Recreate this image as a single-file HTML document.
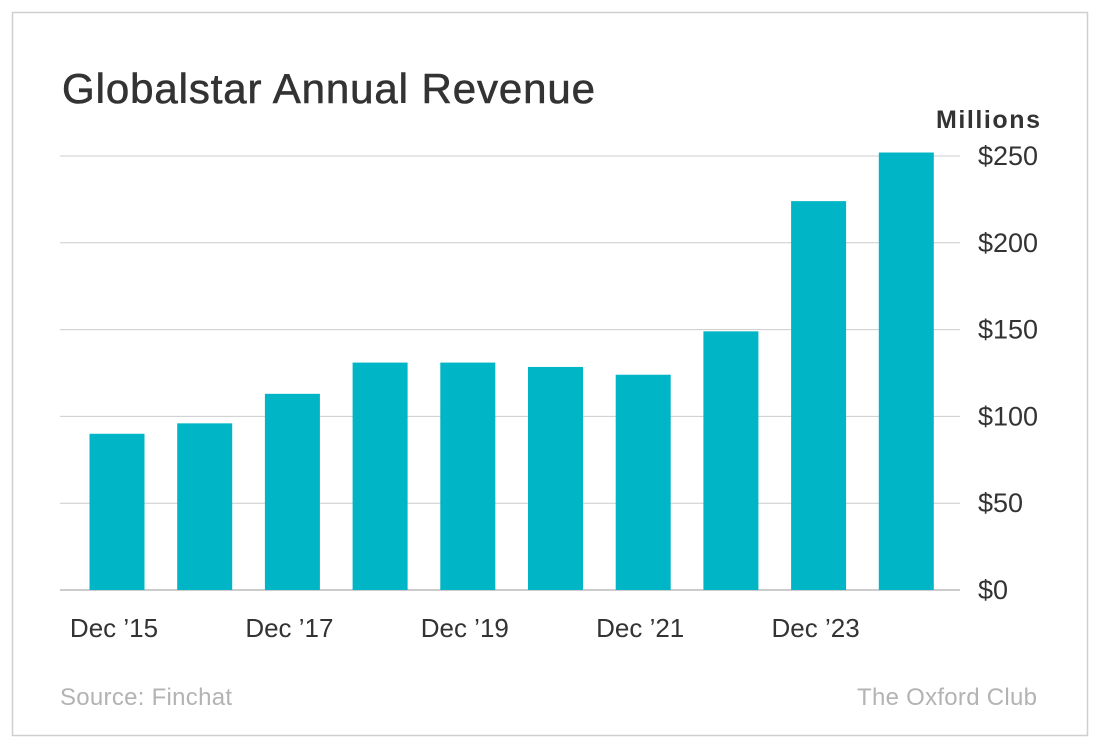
<!DOCTYPE html>
<html><head><meta charset="utf-8"><style>
body{margin:0;background:#fff;}
svg{display:block;font-family:"Liberation Sans",sans-serif;}
</style></head><body>
<svg width="1100" height="748">
<rect x="12.5" y="12.5" width="1075" height="723" fill="#fff" stroke="#cfcfcf" stroke-width="1.5"/>
<text x="62" y="103" font-size="42" fill="#333" stroke="#333" stroke-width="0.6" textLength="533">Globalstar Annual Revenue</text>
<text x="1040" y="128" font-size="25" font-weight="bold" fill="#333" text-anchor="end" textLength="104">Millions</text>
<g id="grid"></g><g id="bars"></g><g id="xl"></g>
<text x="60" y="705" font-size="24" fill="#b3b3b3" textLength="172">Source: Finchat</text>
<text x="857" y="705" font-size="24" fill="#b3b3b3" textLength="180">The Oxford Club</text>
</svg>
<script>
const categories=["Dec '15","Dec '16","Dec '17","Dec '18","Dec '19","Dec '20","Dec '21","Dec '22","Dec '23","Dec '24"];
const revenue=[90,96,113,131,131,128.5,124,149,224,252];
const yTicks=[0,50,100,150,200,250];
const yTickLabels=["$0","$50","$100","$150","$200","$250"];
const xLabelShown=[true,false,true,false,true,false,true,false,true,false];
const NS="http://www.w3.org/2000/svg";
const y=v=>590-v*(434/250);
const x=i=>117+i*87.7;
const grid=document.getElementById('grid'),bars=document.getElementById('bars'),xl=document.getElementById('xl');
yTicks.forEach((t,i)=>{
 const l=document.createElementNS(NS,'line');
 l.setAttribute('x1',60);l.setAttribute('x2',960);l.setAttribute('y1',y(t));l.setAttribute('y2',y(t));
 l.setAttribute('stroke',t===0?'#9a9a9a':'#cccccc');l.setAttribute('stroke-width',1);
 
 
 grid.appendChild(l);
 const tx=document.createElementNS(NS,'text');
 tx.setAttribute('x',978);tx.setAttribute('y',y(t)+9);tx.setAttribute('font-size',27);tx.setAttribute('fill','#333');
 tx.textContent=yTickLabels[i];
 
 
 grid.appendChild(tx);
});
revenue.forEach((v,i)=>{
 const r=document.createElementNS(NS,'rect');
 r.setAttribute('x',x(i)-27.5);r.setAttribute('width',55);r.setAttribute('y',y(v));r.setAttribute('height',y(0)-y(v));
 r.setAttribute('fill','#00b5c5');
 
 
 bars.appendChild(r);
 if(xLabelShown[i]){
  const tx=document.createElementNS(NS,'text');
  tx.setAttribute('x',x(i)-3);tx.setAttribute('y',637);tx.setAttribute('font-size',26);tx.setAttribute('fill','#333');tx.setAttribute('text-anchor','middle');
  tx.textContent=categories[i].replace("'","\u2019");
  
  
  xl.appendChild(tx);
 }
});
</script>
</body></html>
